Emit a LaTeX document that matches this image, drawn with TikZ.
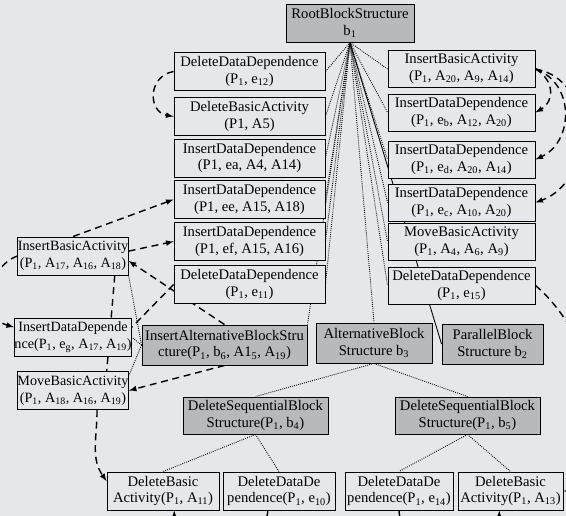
\documentclass[tikz,border=0pt]{standalone}
\usepackage{fontspec}
\setmainfont{Liberation Serif}
\definecolor{paper}{RGB}{230,231,235}
\definecolor{blockgray}{RGB}{184,185,189}
\newcommand{\ix}[1]{\textsubscript{#1}}
\pgfdeclarelayer{back}
\pgfdeclarelayer{links}
\pgfsetlayers{back,links,main}

\begin{document}
\begin{tikzpicture}[x=0.03cm, y=-0.03cm,
  font=\fontsize{12.5}{14.3}\selectfont,
  op/.style={draw, line width=0.8pt, fill=paper, align=center, inner sep=0pt, minimum height=1.14cm},
  small/.style={op, minimum width=3.3cm, font=\fontsize{12.1}{14.3}\selectfont},
  blk/.style={op, fill=blockgray},
  tree/.style={densely dotted, line width=0.75pt},
  deplink/.style={dash pattern=on 6pt off 4pt, line width=1.2pt},
  dep/.style={deplink, -latex}]

\begin{pgfonlayer}{back}
\fill [paper] (0,0) rectangle (566,516);
\end{pgfonlayer}
\useasboundingbox (0,0) rectangle (566,516);

\def \lcol{249.5}
\def \rcol{461.5}
\def \scol{73}

\node [blk, minimum width=3.84cm] (root) at (350,23) {RootBlockStructure\\b\ix{1}};

\node [op, minimum width=4.53cm] (ldd12) at (\lcol,71.5) {DeleteDataDependence\\(P\ix{1}, e\ix{12})};
\node [op, minimum width=4.53cm] (ldba5) at (\lcol,116.5) {DeleteBasicActivity\\(P1, A5)};
\node [op, minimum width=4.53cm] (ldea) at (\lcol,158) {InsertDataDependence\\(P1, ea, A4, A14)};
\node [op, minimum width=4.53cm] (ldee) at (\lcol,199.5) {InsertDataDependence\\(P1, ee, A15, A18)};
\node [op, minimum width=4.53cm] (ldef) at (\lcol,241.5) {InsertDataDependence\\(P1, ef, A15, A16)};
\node [op, minimum width=4.53cm] (ld11) at (\lcol,284.5) {DeleteDataDependence\\(P\ix{1}, e\ix{11})};

\node [op, minimum width=4.41cm, minimum height=1.11cm] (riba) at (\rcol,69) {InsertBasicActivity\\(P\ix{1}, A\ix{20}, A\ix{9}, A\ix{14})};
\node [op, minimum width=4.41cm, minimum height=1.11cm] (reb) at (\rcol,112.5) {InsertDataDependence\\(P\ix{1}, e\ix{b}, A\ix{12}, A\ix{20})};
\node [op, minimum width=4.41cm, minimum height=1.11cm] (red) at (\rcol,159.5) {InsertDataDependence\\(P\ix{1}, e\ix{d}, A\ix{20}, A\ix{14})};
\node [op, minimum width=4.41cm, minimum height=1.11cm] (rec) at (\rcol,202.5) {InsertDataDependence\\(P\ix{1}, e\ix{c}, A\ix{10}, A\ix{20})};
\node [op, minimum width=4.41cm, minimum height=1.11cm] (rmba) at (\rcol,241.5) {MoveBasicActivity\\(P\ix{1}, A\ix{4}, A\ix{6}, A\ix{9})};
\node [op, minimum width=4.41cm, minimum height=1.11cm] (re15) at (\rcol,285.5) {DeleteDataDependence\\(P\ix{1}, e\ix{15})};

\node [small] (siba) at (\scol,256) {InsertBasicActivity\\(P\ix{1}, A\ix{17}, A\ix{16}, A\ix{18})};
\node [small] (sidd) at (\scol,337.5) {InsertDataDepende\\nce(P\ix{1}, e\ix{g}, A\ix{17}, A\ix{19})};
\node [small] (smba) at (\scol,390.5) {MoveBasicActivity\\(P\ix{1}, A\ix{18}, A\ix{16}, A\ix{19})};

\node [blk, minimum width=4.95cm, minimum height=1.2cm] (ins) at (224.5,345) {InsertAlternativeBlockStru\\cture(P\ix{1}, b\ix{6}, A1\ix{5}, A\ix{19})};
\node [blk, minimum width=3.48cm, minimum height=1.2cm] (b3) at (374,343) {AlternativeBlock\\Structure b\ix{3}};
\node [blk, minimum width=3.03cm, minimum height=1.2cm] (b2) at (492.5,344) {ParallelBlock\\Structure b\ix{2}};

\node [blk, minimum width=4.35cm, minimum height=1.11cm] (b4) at (255.5,415.5) {DeleteSequentialBlock\\Structure(P\ix{1}, b\ix{4})};
\node [blk, minimum width=4.35cm, minimum height=1.11cm] (b5) at (467.5,415.5) {DeleteSequentialBlock\\Structure(P\ix{1}, b\ix{5})};

\node [op, minimum width=3.36cm] (bba11) at (163,491) {DeleteBasic\\Activity(P\ix{1}, A\ix{11})};
\node [op, minimum width=3.36cm] (bdd10) at (279,491) {DeleteDataDe\\pendence(P\ix{1}, e\ix{10})};
\node [op, minimum width=3.24cm] (bdd14) at (399,491) {DeleteDataDe\\pendence(P\ix{1}, e\ix{14})};
\node [op, minimum width=3.15cm] (bba13) at (510.5,491) {DeleteBasic\\Activity(P\ix{1}, A\ix{13})};

\begin{pgfonlayer}{links}
\foreach \n in {ldd12, ldba5, ldea, ldee, ldef, ld11}{
\draw [tree] (root.south) -- (\n.east);
}
\foreach \n in {riba, reb, red, rec, rmba, re15}{
\draw [tree] (root.south) -- (\n.west);
}
\draw [tree] (root.south) -- (ins.north east);
\draw [tree] (root.south) -- (b3.north);
\draw [line width=0.75pt] (root.south) -- (b2.west);

\draw [tree] (ins.west) -- (siba.south east);
\draw [tree] (ins.west) -- (sidd.east);
\draw [tree] (ins.west) -- (smba.15);

\draw [tree] (b3.south) -- (b4.north);
\draw [tree] (b3.south) -- (b5.north);
\draw [tree] (b4.south) -- (bba11.north);
\draw [tree] (b4.south) -- (bdd10.north);
\draw [tree] (b5.south) -- (bdd14.north);
\draw [tree] (b5.south) -- (bba13.north);

\draw [dep] (ldd12.west) to [out=190, in=170, looseness=1.5] (ldba5.west);
\draw [dep] (riba.east) to [out=-30, in=30, looseness=1.3] (reb.east);
\draw [dep] (riba.east) to [out=-20, in=25, looseness=1.2] (red.east);
\draw [dep] (riba.east) to [out=-10, in=20, looseness=1.2] (rec.east);

\draw [dep] (siba.west) to [out=200, in=165, looseness=1.2] (sidd.170);
\draw [dep] (siba.north) -- (ldee.west);
\draw [dep] (siba.5) -- (ldef.west);
\draw [dep] (ins.north) -- (siba.-5);
\draw [deplink] (ld11.west) -- (sidd.10);
\draw [deplink] (siba.-25) -- (smba.30);
\draw [dep] (ins.south) -- (smba.east);
\draw [dep] (smba.-39) to [out=-90, in=125] (bba11.170);

\draw [dep] (bdd10.-120) to [out=-90, in=-90] (bba11.-60);
\draw [dep] (bdd14.south) to [out=-90, in=-90] (bba13.-120);
\draw [dep] (re15.east) to [out=-40, in=0] (bba13.east);
\end{pgfonlayer}

\end{tikzpicture}
\end{document}
